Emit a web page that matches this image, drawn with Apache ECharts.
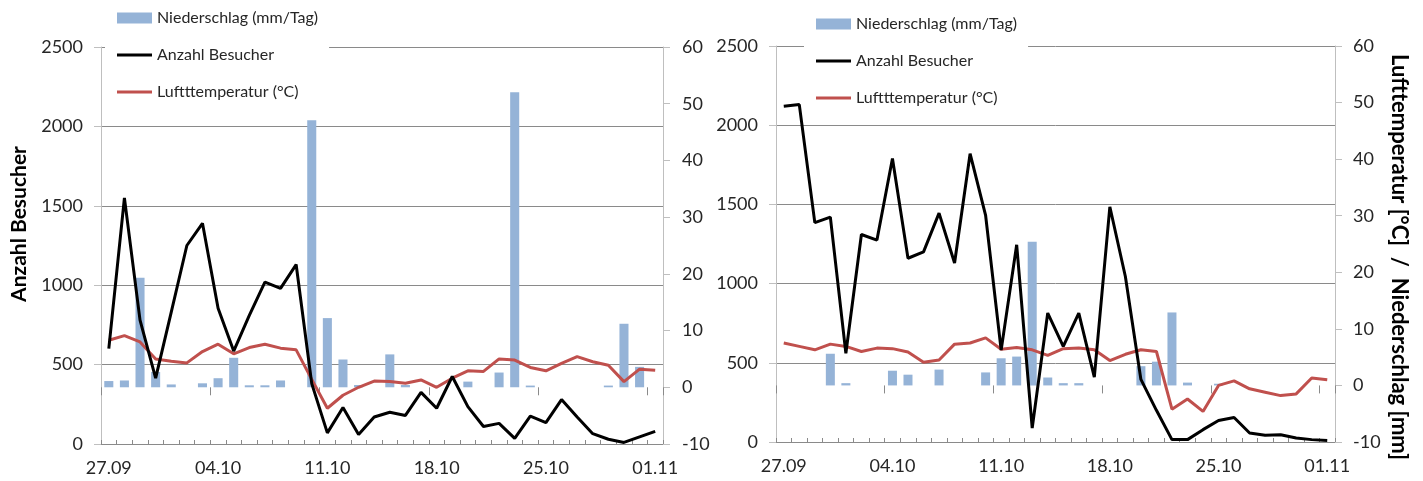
<!DOCTYPE html>
<html>
<head>
<meta charset="utf-8">
<script src="https://cdn.jsdelivr.net/npm/echarts@6/dist/echarts.min.js"></script>
<style>
html,body{margin:0;padding:0;background:#fff;}
#chart{width:1423px;height:481px;}
</style>
</head>
<body>
<div id="chart"></div>
<script>
const categories = ["27.09","28.09","29.09","30.09","01.10","02.10","03.10","04.10","05.10","06.10","07.10","08.10","09.10","10.10","11.10","12.10","13.10","14.10","15.10","16.10","17.10","18.10","19.10","20.10","21.10","22.10","23.10","24.10","25.10","26.10","27.10","28.10","29.10","30.10","31.10","01.11"];

// Left panel
const visitorsA = [600,1550,780,415,830,1250,1390,855,585,810,1020,980,1130,380,70,230,60,170,200,180,325,225,425,235,110,130,35,175,135,280,170,65,30,10,45,80];
const tempA = [8.3,9.1,8.0,5.0,4.6,4.3,6.3,7.6,5.9,7.0,7.6,6.9,6.6,1.4,-3.7,-1.4,0.0,1.1,1.0,0.7,1.3,0.0,1.6,2.9,2.8,5.0,4.8,3.5,2.9,4.2,5.4,4.5,3.9,1.0,3.2,3.0];
const precipA = [1.1,1.2,19.3,2.7,0.5,0,0.7,1.6,5.2,0.35,0.35,1.2,0,47.1,12.2,4.9,0.4,0,5.8,0.4,0,0,0,1.0,0,2.6,52.0,0.3,0,0,0,0,0.3,11.2,3.6,0];

// Right panel
const visitorsB = [2120,2130,1385,1420,560,1310,1275,1790,1160,1200,1445,1130,1820,1430,580,1245,88,814,603,814,410,1485,1045,395,200,15,15,78,136,155,57,42,46,25,15,10];
const tempB = [7.5,6.9,6.3,7.3,6.9,6.0,6.6,6.5,5.9,4.1,4.5,7.3,7.5,8.4,6.4,6.7,6.3,5.3,6.5,6.6,6.3,4.4,5.5,6.3,6.0,-4.2,-2.4,-4.6,0.0,0.8,-0.6,-1.2,-1.8,-1.5,1.3,1.0];
const precipB = [0,0,0,5.6,0.4,0,0,2.6,1.9,0,2.8,0,0,2.3,4.8,5.1,25.4,1.4,0.4,0.4,0,0,0,3.4,4.2,12.9,0.5,0,0.3,0,0,0,0,0,0,0];

const leftTicks = {min:0, max:2500, interval:500};
const rightTicks = {min:-10, max:60, interval:10};

const NAME_P = "Niederschlag (mm/Tag)";
const NAME_V = "Anzahl Besucher";
const NAME_T = "Luftttemperatur (°C)";
const TITLE_L = "Anzahl Besucher";
const TITLE_R = "Lufttemperatur [°C]  /  Niederschlag [mm]";

const FONT = "Lato, 'Open Sans', sans-serif";
const TXT = "#262626";
const GRID_C = "#8a8a8a";
const AXIS_C = "#bfbfbf";
const LINE_ICON = 'path://M0,0H35V3H0Z';

function xAxes(gi){
  return [{
    type:'category', gridIndex:gi, data:categories, boundaryGap:true,
    axisLine:{show:true, lineStyle:{color:GRID_C, width:1}},
    axisTick:{show:true, interval:0, inside:true, length:4, lineStyle:{color:GRID_C}},
    axisLabel:{interval:6, margin:15, fontSize:18, fontFamily:FONT, color:TXT},
    splitLine:{show:false}
  },{
    type:'category', gridIndex:gi, data:categories, boundaryGap:true, position:'bottom',
    axisLine:{show:false},
    axisTick:{show:true, interval:6, inside:false, length:8, lineStyle:{color:GRID_C}},
    axisLabel:{show:false},
    splitLine:{show:false}
  }];
}
function yAxes(gi, lm, rm){
  return [{
    type:'value', gridIndex:gi, position:'left', min:leftTicks.min, max:leftTicks.max, interval:leftTicks.interval,
    axisLine:{show:true, lineStyle:{color:AXIS_C}},
    axisTick:{show:true, length:7, lineStyle:{color:AXIS_C}},
    axisLabel:{margin:lm, fontSize:18, fontFamily:FONT, color:TXT, formatter:function(v){return String(v);}},
    splitLine:{show:true, lineStyle:{color:GRID_C, width:1}}
  },{
    type:'value', gridIndex:gi, position:'right', min:rightTicks.min, max:rightTicks.max, interval:rightTicks.interval,
    axisLine:{show:true, lineStyle:{color:AXIS_C}},
    axisTick:{show:true, length:7, lineStyle:{color:AXIS_C}},
    axisLabel:{margin:rm, fontSize:18, fontFamily:FONT, color:TXT, formatter:function(v){return String(v);}},
    splitLine:{show:false}
  }];
}
function seriesFor(xi, yl, yr, precip, temp, vis){
  return [{
    name:NAME_P, type:'bar', xAxisIndex:xi, yAxisIndex:yr, data:precip, barWidth:'58%',
    itemStyle:{color:'#95b3d7'}
  },{
    name:NAME_T, type:'line', xAxisIndex:xi, yAxisIndex:yr, data:temp, symbol:'none',
    lineStyle:{color:'#c0504d', width:3}, itemStyle:{color:'#c0504d'}
  },{
    name:NAME_V, type:'line', xAxisIndex:xi, yAxisIndex:yl, data:vis, symbol:'none',
    lineStyle:{color:'#000000', width:3}, itemStyle:{color:'#000000'}
  }];
}
function legendAt(left, top){
  return {
    left:left, top:top, orient:'vertical', backgroundColor:'#ffffff',
    padding:[5,11,5,12], itemGap:19, itemWidth:35, itemHeight:11,
    textStyle:{fontSize:16, fontFamily:FONT, color:TXT, lineHeight:18},
    data:[{name:NAME_P, icon:'rect'},{name:NAME_V, icon:LINE_ICON},{name:NAME_T, icon:LINE_ICON}],
    selectedMode:false
  };
}

const chart = echarts.init(document.getElementById('chart'), null, {renderer:'canvas'});
chart.setOption({
  animation:false,
  backgroundColor:'#ffffff',
  grid:[
    {left:101, top:47, width:562, height:397},
    {left:776, top:46, width:559, height:396}
  ],
  xAxis:[].concat(xAxes(0), xAxes(1)),
  yAxis:[].concat(yAxes(0, 18, 19), yAxes(1, 18, 18)),
  legend:[legendAt(105, 4), legendAt(804, 10)],
  series:[].concat(seriesFor(0,0,1,precipA,tempA,visitorsA), seriesFor(2,2,3,precipB,tempB,visitorsB)),
  graphic:[
    {type:'text', x:19, y:224, rotation:Math.PI/2,
     style:{text:TITLE_L, font:"bold 21px " + FONT, fill:'#000', textAlign:'center', textVerticalAlign:'middle'}},
    {type:'text', x:1399, y:257, rotation:-Math.PI/2,
     style:{text:TITLE_R, font:"bold 22px " + FONT, fill:'#000', textAlign:'center', textVerticalAlign:'middle'}}
  ]
});
</script>
</body>
</html>
